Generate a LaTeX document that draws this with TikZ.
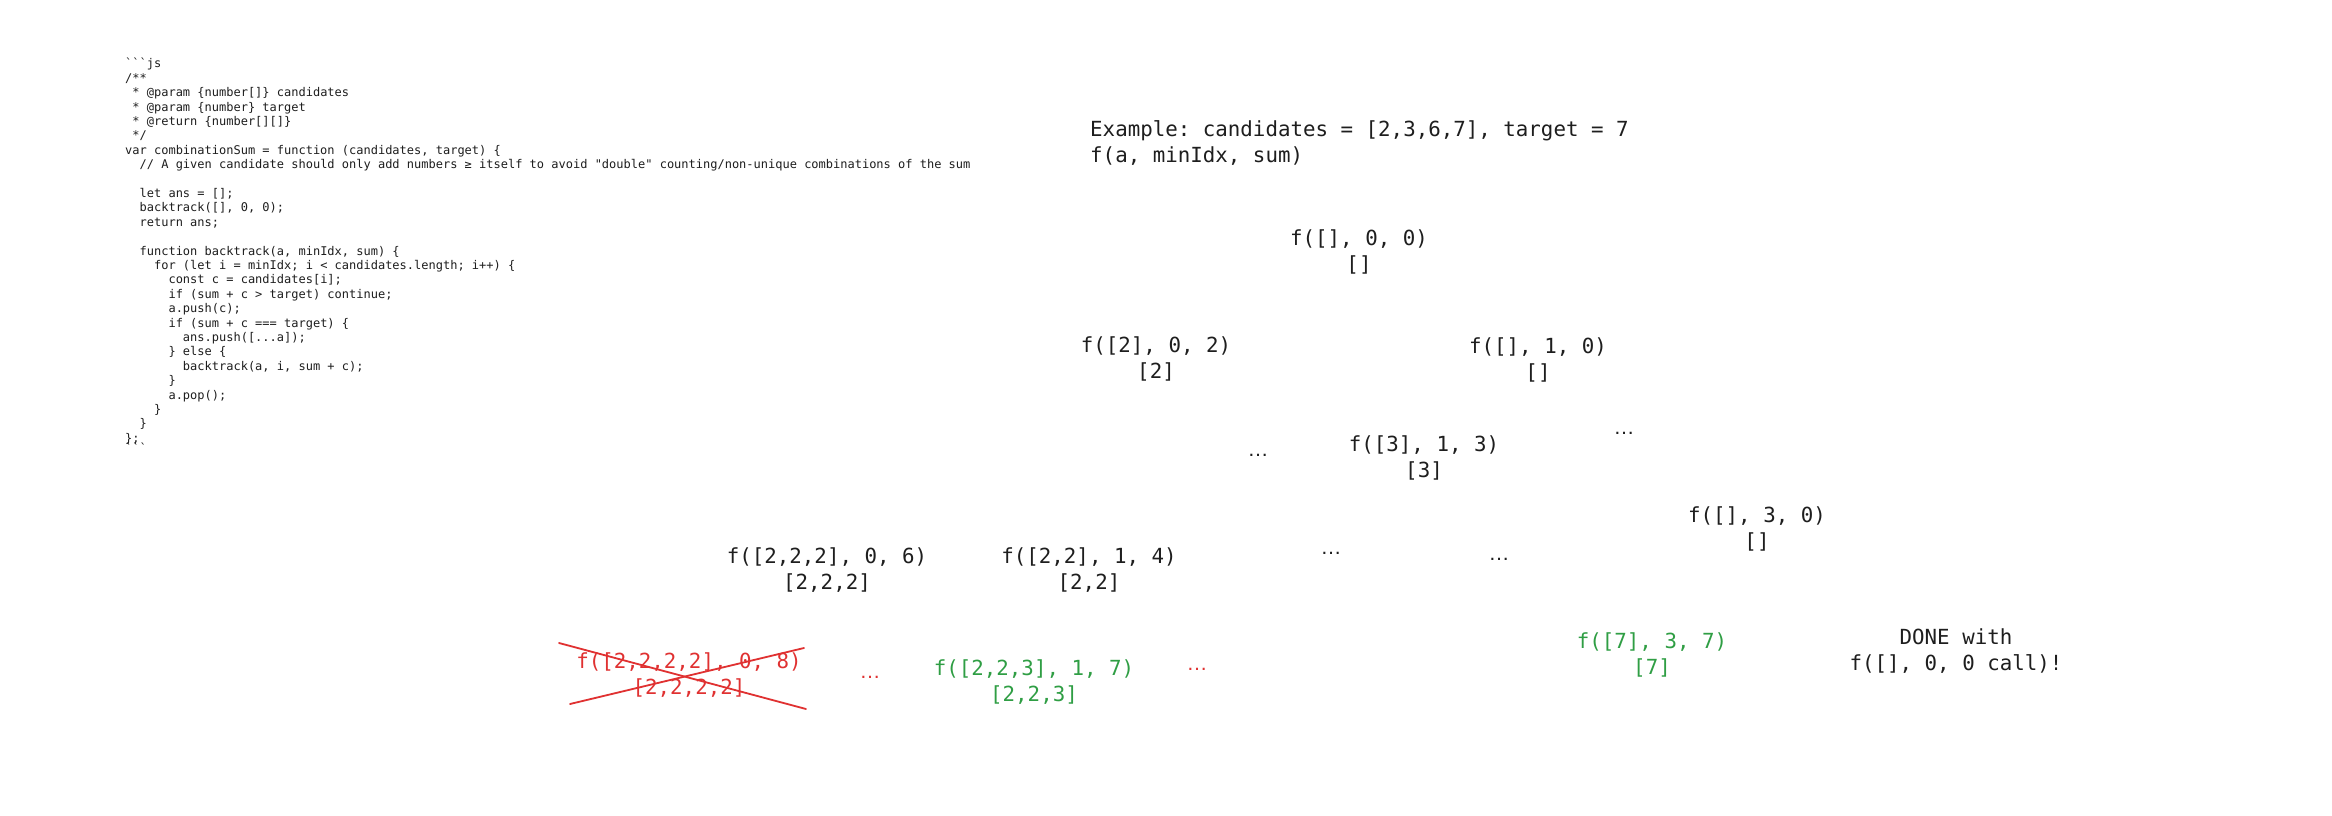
\documentclass[tikz,border=0pt]{standalone}
\usepackage{fontspec}
\setmonofont{DejaVu Sans Mono}
\newfontfamily\dotfont{Liberation Sans}
\definecolor{ink}{HTML}{1E1E1E}
\definecolor{redx}{HTML}{E03131}
\definecolor{greenx}{HTML}{2F9E44}
\newcommand\ind[1]{\hspace*{#1\fontcharwd\font`x}}
\begin{document}
\begin{tikzpicture}[x=1pt,y=-1pt,
  code/.style={font=\ttfamily\fontsize{12}{14.4}\selectfont, text=ink, inner sep=0pt, align=left, anchor=north west},
  call/.style={font=\ttfamily\fontsize{20.8}{26}\selectfont, text=ink, inner sep=0pt, align=center},
  bad/.style={call, text=redx},
  good/.style={call, text=greenx},
  more/.style={font=\dotfont\fontsize{21}{26}\selectfont, text=ink, inner sep=0pt},
  strike/.style={draw=redx, line width=1.8pt, line cap=round}]
\useasboundingbox[fill=white] (0,0) rectangle (2332,816);

\node[code] (code) at (125,58) {```js\\
/**\\
\ind1* @param \{number[]\} candidates\\
\ind1* @param \{number\} target\\
\ind1* @return \{number[][]\}\\
\ind1*/\\
var combinationSum = function (candidates, target) \{\\
\ind2// A given candidate should only add numbers ≥ itself to avoid "double" counting/non-unique combinations of the sum\\
\mbox{}\\
\ind2let ans = [];\\
\ind2backtrack([], 0, 0);\\
\ind2return ans;\\
\mbox{}\\
\ind2function backtrack(a, minIdx, sum) \{\\
\ind4for (let i = minIdx; i < candidates.length; i++) \{\\
\ind6const c = candidates[i];\\
\ind6if (sum + c > target) continue;\\
\ind6a.push(c);\\
\ind6if (sum + c === target) \{\\
\ind8ans.push([...a]);\\
\ind6\} else \{\\
\ind8backtrack(a, i, sum + c);\\
\ind6\}\\
\ind6a.pop();\\
\ind4\}\\
\ind2\}\\
\};\\[-4.4pt]
```};

\node[call, anchor=west, align=left] (ex) at (1090,143) {Example: candidates = [2,3,6,7], target = 7\\f(a, minIdx, sum)};

\node[call] (root) at (1359,252) {f([], 0, 0)\\\relax[]};
\node[call] (n2) at (1156,359) {f([2], 0, 2)\\\relax[2]};
\node[call] (n10) at (1538,360) {f([], 1, 0)\\\relax[]};
\node[more] (d1) at (1258,455) {…};
\node[call] (n3) at (1424,458) {f([3], 1, 3)\\\relax[3]};
\node[more] (d2) at (1624,433) {…};
\node[call] (n30) at (1757,529) {f([], 3, 0)\\\relax[]};
\node[call] (n222) at (827,570) {f([2,2,2], 0, 6)\\\relax[2,2,2]};
\node[call] (n22) at (1089,570) {f([2,2], 1, 4)\\\relax[2,2]};
\node[more] (d3) at (1331,553) {…};
\node[more] (d4) at (1499,559) {…};
\node[bad] (n2222) at (689,675) {f([2,2,2,2], 0, 8)\\\relax[2,2,2,2]};
\node[more, text=redx] (d5) at (870,677) {…};
\node[good] (n223) at (1034,682) {f([2,2,3], 1, 7)\\\relax[2,2,3]};
\node[more, text=redx] (d6) at (1197,669) {…};
\node[good] (n7) at (1652,655) {f([7], 3, 7)\\\relax[7]};
\node[call] (done) at (1956,651) {DONE with\\f([], 0, 0 call)!};

\coordinate (s1a) at (559,643);
\coordinate (s1b) at (806,709);
\coordinate (s2a) at (570,704);
\coordinate (s2b) at (804,648);
\draw[strike] (s1a) -- (s1b);
\draw[strike] (s2a) -- (s2b);
\end{tikzpicture}
\end{document}
